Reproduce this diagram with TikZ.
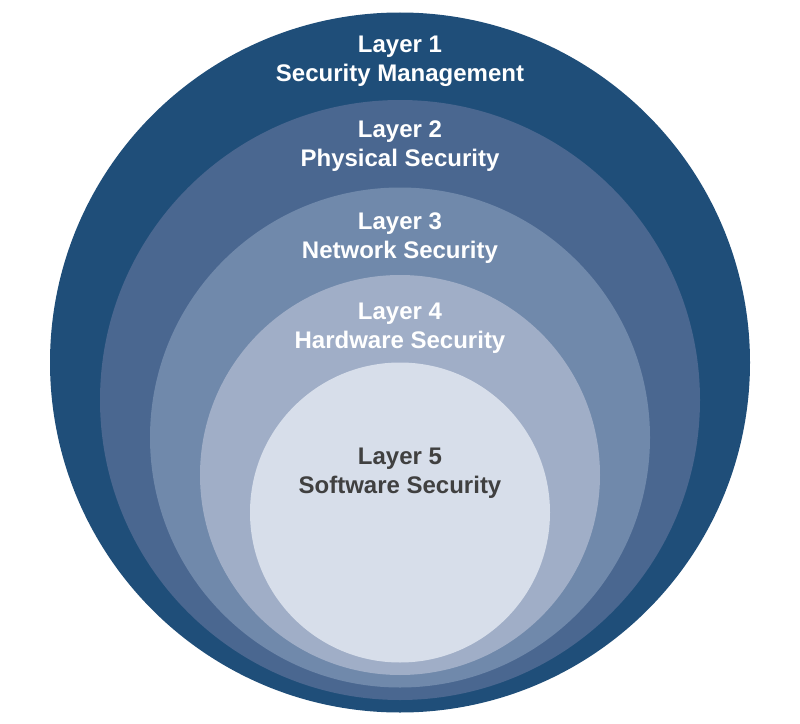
\documentclass[tikz,border=0pt]{standalone}
\usepackage{fontspec}
\setmainfont{Liberation Sans}
\definecolor{layerA}{HTML}{1F4E79}
\definecolor{layerB}{HTML}{4A6790}
\definecolor{layerC}{HTML}{7089AB}
\definecolor{layerD}{HTML}{A0AEC7}
\definecolor{layerE}{HTML}{D7DEEA}
\definecolor{darktext}{HTML}{404040}
\tikzset{
  layertext/.style={align=center,inner sep=0pt,font=\fontsize{18}{21.75}\selectfont\bfseries,text=white}
}
\begin{document}
\begin{tikzpicture}[x=0.75pt,y=-0.75pt]
    \useasboundingbox (0,0) rectangle (800,724);
    \foreach \r/\cy/\col in {350/362.5/layerA,300/400/layerB,250/437.5/layerC,200/475/layerD,150/512.5/layerE}{
      \fill[\col] (400,\cy) circle[radius=\r];
    };
    \node[layertext] (l1) at (400,61) {Layer 1\\Security Management};
    \node[layertext] (l2) at (400,146) {Layer 2\\Physical Security};
    \node[layertext] (l3) at (400,238) {Layer 3\\Network Security};
    \node[layertext] (l4) at (400,328) {Layer 4\\Hardware Security};
    \node[layertext,text=darktext] (l5) at (400,473) {Layer 5\\Software Security};
  \end{tikzpicture}
\end{document}
